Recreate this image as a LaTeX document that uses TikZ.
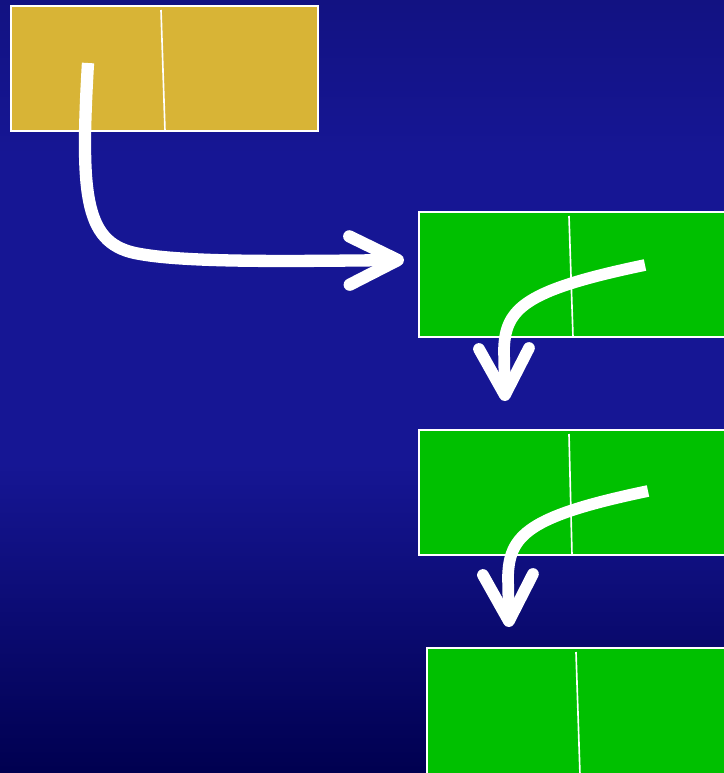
\documentclass[tikz,border=0pt]{standalone}
\usepackage{xcolor}
\definecolor{bgTop}{HTML}{121282}
\definecolor{bgMid}{HTML}{161694}
\definecolor{bgBottom}{HTML}{000050}
\definecolor{cellGold}{HTML}{D8B436}
\definecolor{cellGreen}{HTML}{00C000}
\usetikzlibrary{arrows.meta}
\pgfdeclareverticalshading{bgFade}{100bp}{color(0bp)=(bgBottom); color(25bp)=(bgBottom); color(45bp)=(bgMid); color(65bp)=(bgMid); color(75bp)=(bgTop); color(100bp)=(bgTop)}
\tikzset{
  cell/.style={draw=white, line width=1.6pt, inner sep=0pt, outer sep=0pt, minimum height=3.75cm},
  divider/.style={draw=white, line width=1.4pt},
  flow/.style={draw=white, line width=10.5pt, line cap=butt,
    -{Straight Barb[length=1.45cm, width=1.45cm, round]}},
  drop/.style={draw=white, line width=10pt, line cap=butt,
    -{Straight Barb[length=1.4cm, width=1.5cm, round]}}
}

\begin{document}
\begin{tikzpicture}[x=0.03cm, y=-0.03cm]
  \useasboundingbox (0,0) rectangle (724,773);
  \shade[shading=bgFade] (0,0) rectangle (724,773);

  % cells
  \node[cell, fill=cellGold, minimum width=9.21cm] (src) at (164.5,68.5) {};
  \node[cell, fill=cellGreen, minimum width=9.9cm] (dstA) at (584,274.5) {};
  \node[cell, fill=cellGreen, minimum width=9.9cm] (dstB) at (584,492.5) {};
  \node[cell, fill=cellGreen, minimum width=9.9cm, minimum height=3.9cm] (dstC) at (592,713) {};

  % dividers
  \draw[divider] (161,10) -- (src.south -| 165,0);
  \draw[divider] (569,216) -- (dstA.south -| 573,0);
  \draw[divider] (569,434) -- (dstB.south -| 572,0);
  \draw[divider] (576,652) -- (580,775);

  % arrows
  \coordinate (srcTail) at (88,63);
  \coordinate (dstAIn) at (404,260);
  \coordinate (dstATail) at (645,265);
  \coordinate (dstBIn) at (505,401);
  \coordinate (dstBTail) at (648,491);
  \coordinate (dstCIn) at (509,627);
  \draw[flow] (srcTail) .. controls (80,200) and (85,245) .. (140,254) .. controls (190,263) and (300,261) .. (dstAIn);
  \draw[drop] (dstATail) .. controls (525,290) and (505,308) .. (504,350) -- (dstBIn);
  \draw[drop] (dstBTail) .. controls (528,516) and (509,535) .. (508,577) -- (dstCIn);
\end{tikzpicture}
\end{document}
